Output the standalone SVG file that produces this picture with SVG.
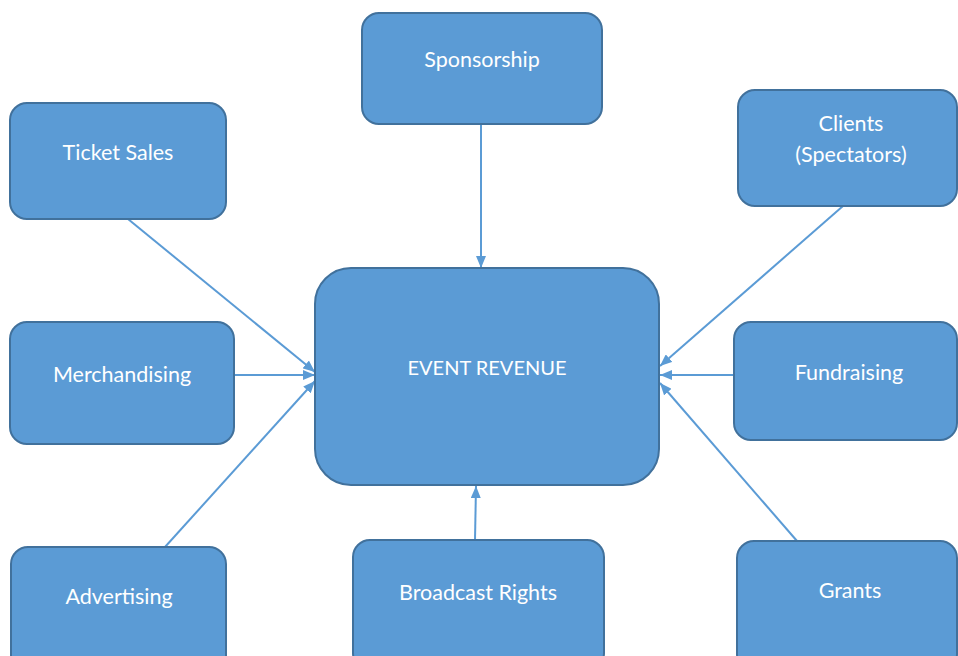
<svg xmlns="http://www.w3.org/2000/svg" width="958" height="656" viewBox="0 0 958 656">
  <defs>
    <marker id="arrow" viewBox="0 0 12 10" refX="12" refY="5" markerWidth="12" markerHeight="10" markerUnits="userSpaceOnUse" orient="auto">
      <path d="M0,0 L12,5 L0,10 z" fill="#5B9BD5"/>
    </marker>
    <style>
      .box { fill: #5B9BD5; stroke: #41719C; stroke-width: 2; }
      .label { fill: #FFFFFF; font-family: Lato, "Liberation Sans", sans-serif; font-size: 21.5px; text-anchor: middle; dominant-baseline: central; }
      .caps { font-size: 20px; }
      .link { stroke: #5B9BD5; stroke-width: 2; fill: none; marker-end: url(#arrow); }
    </style>
  </defs>
  <rect width="958" height="656" fill="#FFFFFF"/>

  <g id="connectors">
    <line class="link" x1="481" y1="124" x2="481" y2="268"/>
    <line class="link" x1="128" y1="219" x2="315" y2="372"/>
    <line class="link" x1="234" y1="375" x2="315" y2="375"/>
    <line class="link" x1="165" y1="547" x2="315" y2="381"/>
    <line class="link" x1="843" y1="206" x2="660" y2="366"/>
    <line class="link" x1="734" y1="375" x2="660" y2="375"/>
    <line class="link" x1="797" y1="541" x2="660" y2="383"/>
    <line class="link" x1="475" y1="540" x2="476" y2="486"/>
  </g>

  <g id="event-revenue">
    <rect class="box" x="315" y="268" width="344" height="217" rx="36"/>
    <text class="label caps" x="487" y="367">EVENT REVENUE</text>
  </g>
  <g id="sponsorship">
    <rect class="box" x="362" y="13" width="240" height="111" rx="17"/>
    <text class="label" x="482" y="59">Sponsorship</text>
  </g>
  <g id="ticket-sales">
    <rect class="box" x="10" y="103" width="216" height="116" rx="17"/>
    <text class="label" x="118" y="152">Ticket Sales</text>
  </g>
  <g id="clients">
    <rect class="box" x="738" y="90" width="219" height="116" rx="17"/>
    <text class="label" x="851" y="123">Clients</text>
    <text class="label" x="851" y="154">(Spectators)</text>
  </g>
  <g id="merchandising">
    <rect class="box" x="10" y="322" width="224" height="122" rx="17"/>
    <text class="label" x="122" y="374">Merchandising</text>
  </g>
  <g id="fundraising">
    <rect class="box" x="734" y="322" width="223" height="118" rx="17"/>
    <text class="label" x="849" y="372">Fundraising</text>
  </g>
  <g id="advertising">
    <rect class="box" x="11" y="547" width="215" height="125" rx="17"/>
    <text class="label" x="119" y="596">Advertising</text>
  </g>
  <g id="broadcast-rights">
    <rect class="box" x="353" y="540" width="251" height="130" rx="17"/>
    <text class="label" x="478" y="592">Broadcast Rights</text>
  </g>
  <g id="grants">
    <rect class="box" x="737" y="541" width="220" height="130" rx="17"/>
    <text class="label" x="850" y="590">Grants</text>
  </g>
</svg>
